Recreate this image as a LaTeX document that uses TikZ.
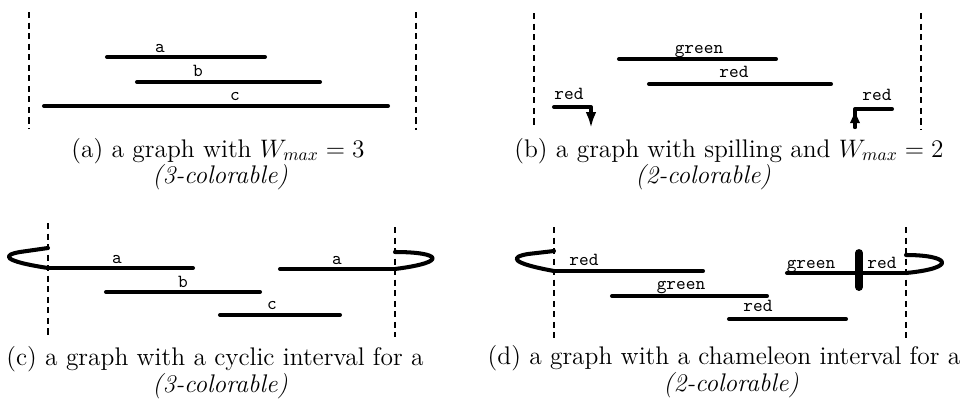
\documentclass[tikz,border=0pt]{standalone}
\usepackage{amsmath}
\usepackage{tikz}
\usetikzlibrary{calc,arrows.meta}

\begin{document}
\begin{tikzpicture}[x=0.02cm,y=-0.02cm,
    interval/.style={line width=2.3pt,line cap=round,line join=round},
    fence/.style={line width=0.9pt,dash pattern=on 3.5pt off 2.5pt},
    lbl/.style={anchor=base,inner sep=0pt,font=\fontsize{10.5}{12}\ttfamily},
    captxt/.style={anchor=base,inner sep=0pt,font=\fontsize{14.5}{17}\selectfont}]
    \useasboundingbox (0,0) rectangle (968,403);
    % ---------------- (a) ----------------
    % Define points
    \coordinate (aFL1) at (29,12);   \coordinate (aFL2) at (29,128);
    \coordinate (aFR1) at (416,12);  \coordinate (aFR2) at (416,130);
    \coordinate (aA1) at (107,57);   \coordinate (aA2) at (265,57);
    \coordinate (aB1) at (137,82);   \coordinate (aB2) at (320,82);
    \coordinate (aC1) at (44,106);   \coordinate (aC2) at (388,106);
    % Boundaries
    \draw[fence] (aFL1) -- (aFL2);
    \draw[fence] (aFR1) -- (aFR2);
    % Intervals
    \draw[interval] (aA1) -- (aA2);
    \draw[interval] (aB1) -- (aB2);
    \draw[interval] (aC1) -- (aC2);
    \node[lbl] (aAlbl) at (160,52) {a};
    \node[lbl] (aBlbl) at (198,76) {b};
    \node[lbl] (aClbl) at (235,100) {c};
    % Caption
    \node[captxt] (capA1) at (218,157) {(a) a graph with $W_{max} = 3$};
    \node[captxt] (capA2) at (220,183) {\itshape (3-colorable)};
    % ---------------- (b) ----------------
    \coordinate (bFL1) at (534,13);  \coordinate (bFL2) at (534,128);
    \coordinate (bFR1) at (921,13);  \coordinate (bFR2) at (921,130);
    \coordinate (bG1) at (619,59);   \coordinate (bG2) at (776,59);
    \coordinate (bR1) at (649,84);   \coordinate (bR2) at (831,84);
    % Spilled pieces
    \coordinate (bSL1) at (554,107); \coordinate (bSL2) at (591,107);
    \coordinate (bSL3) at (591,128);
    \coordinate (bSR1) at (892,109); \coordinate (bSR2) at (855,109);
    \coordinate (bSR3) at (855,127);
    \draw[fence] (bFL1) -- (bFL2);
    \draw[fence] (bFR1) -- (bFR2);
    \draw[interval] (bG1) -- (bG2);
    \draw[interval] (bR1) -- (bR2);
    \draw[interval,-{Latex[length=9pt,width=6pt]}] (bSL1) -- (bSL2) -- (bSL3);
    \draw[interval] (bSR1) -- (bSR2) -- (bSR3);
    \draw[interval,-{Latex[length=8pt,width=6pt]}] (bSR3) -- (bSR2);
    \node[lbl] (bGlbl) at (699,53) {green};
    \node[lbl] (bRlbl) at (734,77) {red};
    \node[lbl] (bSLlbl) at (569,99) {red};
    \node[lbl] (bSRlbl) at (877,100) {red};
    % Caption
    \node[captxt] (capB1) at (729,157) {(b) a graph with spilling and $W_{max} = 2$};
    \node[captxt] (capB2) at (703,183) {\itshape (2-colorable)};
    % ---------------- (c) ----------------
    \coordinate (cFL1) at (48,223);  \coordinate (cFL2) at (48,335);
    \coordinate (cFR1) at (395,227); \coordinate (cFR2) at (395,337);
    \coordinate (cA1) at (48,268);   \coordinate (cA2) at (193,268);
    \coordinate (cA3) at (280,269);  \coordinate (cA4) at (395,269);
    \coordinate (cB1) at (106,292);  \coordinate (cB2) at (260,292);
    \coordinate (cC1) at (220,315);  \coordinate (cC2) at (340,315);
    % Wrap-around ends
    \coordinate (cWL) at (48,248);   \coordinate (cWR) at (395,252);
    \draw[fence] (cFL1) -- (cFL2);
    \draw[fence] (cFR1) -- (cFR2);
    \draw[interval] (cA1) -- (cA2);
    \draw[interval] (cA3) -- (cA4);
    \draw[interval] (cB1) -- (cB2);
    \draw[interval] (cC1) -- (cC2);
    \draw[interval] (cWL) -- (20,252) .. controls (2,255) and (2,261) .. (cA1);
    \draw[interval] (cWR) .. controls (440,252) and (450,262) .. (cA4);
    \node[lbl] (cAlbl1) at (117,263) {a};
    \node[lbl] (cAlbl2) at (337,264) {a};
    \node[lbl] (cBlbl) at (183,287) {b};
    \node[lbl] (cClbl) at (272,309) {c};
    % Caption
    \node[captxt] (capC1) at (215,365) {(c) a graph with a cyclic interval for a};
    \node[captxt] (capC2) at (220,392) {\itshape (3-colorable)};
    % ---------------- (d) ----------------
    \coordinate (dFL1) at (554,227); \coordinate (dFL2) at (554,338);
    \coordinate (dFR1) at (906,227); \coordinate (dFR2) at (906,338);
    \coordinate (dR1) at (554,271);  \coordinate (dR2) at (703,271);
    \coordinate (dG1) at (612,296);  \coordinate (dG2) at (767,296);
    \coordinate (dR3) at (729,319);  \coordinate (dR4) at (846,319);
    \coordinate (dC1) at (787,273);  \coordinate (dC2) at (906,273);
    \coordinate (dWL) at (554,251);  \coordinate (dWR) at (906,255);
    % Colour switch
    \coordinate (dX1) at (859,253);  \coordinate (dX2) at (859,287);
    \draw[fence] (dFL1) -- (dFL2);
    \draw[fence] (dFR1) -- (dFR2);
    \draw[interval] (dR1) -- (dR2);
    \draw[interval] (dG1) -- (dG2);
    \draw[interval] (dR3) -- (dR4);
    \draw[interval] (dC1) -- (dC2);
    \draw[interval] (dWL) -- (528,254) .. controls (510,257) and (510,263) .. (dR1);
    \draw[interval] (dWR) .. controls (950,255) and (958,268) .. (dC2);
    \draw[line width=4.5pt,line cap=round] (dX1) -- (dX2);
    \node[lbl] (dRlbl1) at (584,265) {red};
    \node[lbl] (dGlbl) at (681,289) {green};
    \node[lbl] (dRlbl2) at (758,311) {red};
    \node[lbl] (dGlbl2) at (811,268) {green};
    \node[lbl] (dRlbl3) at (882,268) {red};
    % Caption
    \node[captxt] (capD1) at (724,364) {(d) a graph with a chameleon interval for a};
    \node[captxt] (capD2) at (731,391) {\itshape (2-colorable)};
\end{tikzpicture}
\end{document}
